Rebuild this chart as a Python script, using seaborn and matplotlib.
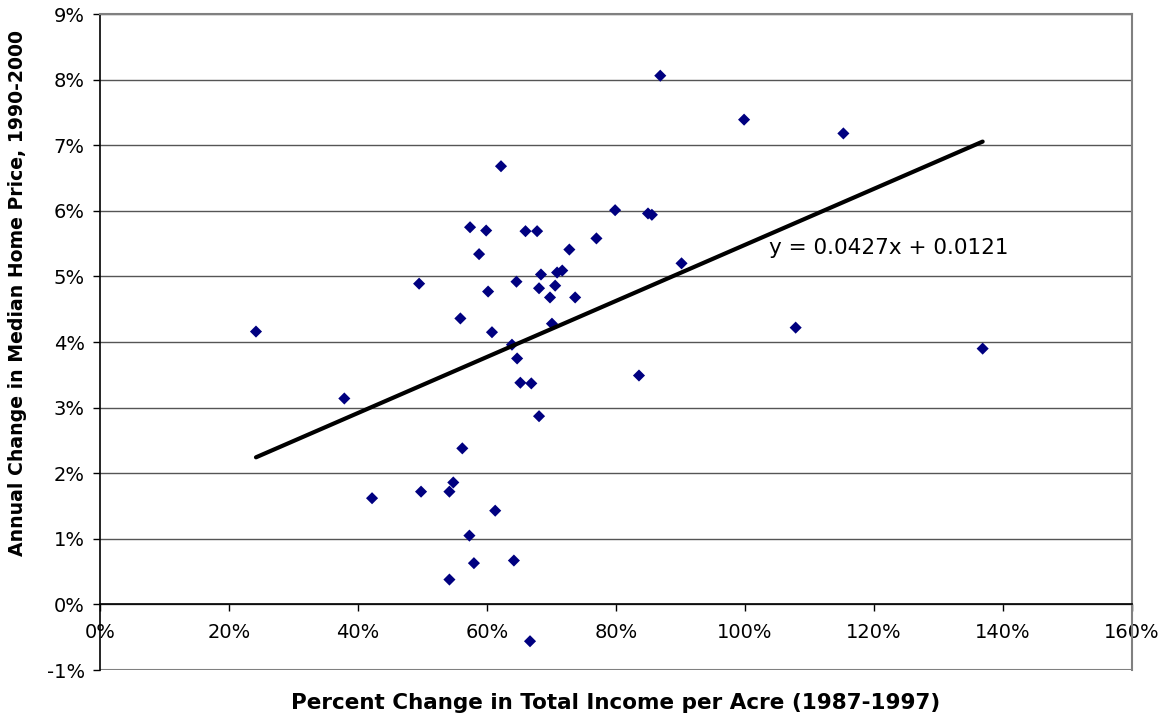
import matplotlib
matplotlib.use("Agg")
import matplotlib.pyplot as plt
import matplotlib.ticker as mticker
import numpy as np
import pandas as pd
import seaborn as sns

# Percent change in total income per acre (1987-1997), as fractions
income_change = [0.242, 0.379, 0.422, 0.495, 0.498, 0.542, 0.542, 0.548, 0.559, 0.562,
                 0.573, 0.574, 0.580, 0.588, 0.599, 0.602, 0.608, 0.613, 0.622, 0.639,
                 0.642, 0.646, 0.647, 0.652, 0.660, 0.667, 0.669, 0.678, 0.681, 0.681,
                 0.684, 0.698, 0.701, 0.706, 0.709, 0.717, 0.728, 0.737, 0.770, 0.799,
                 0.850, 0.856, 0.836, 0.869, 0.902, 0.999, 1.079, 1.153, 1.369]
# Annual change in median home price (1990-2000), as fractions
price_change = [0.0416, 0.0314, 0.0162, 0.0489, 0.0172, 0.0038, 0.0172, 0.0186, 0.0436, 0.0238,
                0.0105, 0.0575, 0.0063, 0.0534, 0.0570, 0.0477, 0.0415, 0.0143, 0.0668, 0.0396,
                0.0067, 0.0492, 0.0375, 0.0338, 0.0569, -0.0056, 0.0337, 0.0569, 0.0482, 0.0287,
                0.0503, 0.0468, 0.0428, 0.0486, 0.0506, 0.0509, 0.0541, 0.0468, 0.0558, 0.0601,
                0.0596, 0.0594, 0.0349, 0.0806, 0.0520, 0.0739, 0.0422, 0.0718, 0.0390]

slope, intercept = 0.0427, 0.0121
eq_label = "y = 0.0427x + 0.0121"

df = pd.DataFrame({"income": income_change, "price": price_change})

sns.set_theme(style="white", rc={"text.color": "black", "axes.labelcolor": "black",
                                 "xtick.color": "black", "ytick.color": "black"})
plt.rcParams["font.family"] = ["DejaVu Sans"]
plt.rcParams["axes.unicode_minus"] = False

fig = plt.figure(figsize=(11.69, 7.19), dpi=100)
ax = fig.add_axes([0.0855, 0.068, 0.8825, 0.9125])

# grid lines
for yv in np.arange(0.0, 0.091, 0.01):
    ax.axhline(yv, color="#555555", lw=1.0, zorder=1)
ax.axhline(-0.01, color="#808080", lw=1.5, zorder=1)

sns.scatterplot(data=df, x="income", y="price", marker="D", s=38,
                color="#000080", edgecolor="none", ax=ax, zorder=3)

# linear trend line from the fitted equation
xs = np.array([df["income"].min(), df["income"].max()])
sns.lineplot(x=xs, y=slope * xs + intercept, color="black", lw=3, ax=ax, zorder=4)

ax.text(1.037, 0.0544, eq_label, fontsize=15.5, va="center", ha="left", zorder=5)

ax.set_xlim(0, 1.6)
ax.set_ylim(-0.01, 0.09)
ax.xaxis.set_major_locator(mticker.MultipleLocator(0.2))
ax.yaxis.set_major_locator(mticker.MultipleLocator(0.01))
ax.xaxis.set_major_formatter(mticker.PercentFormatter(1.0, decimals=0))
ax.yaxis.set_major_formatter(mticker.PercentFormatter(1.0, decimals=0))

ax.spines["bottom"].set_position(("data", 0))
ax.spines["bottom"].set_color("black")
ax.spines["bottom"].set_linewidth(1.2)
ax.spines["left"].set_color("black")
ax.spines["left"].set_linewidth(1.2)
for s in ["top", "right"]:
    ax.spines[s].set_color("#808080")
    ax.spines[s].set_linewidth(1.5)

ax.tick_params(axis="x", direction="out", length=5, width=1, color="black",
               labelsize=14, pad=8, bottom=True)
ax.tick_params(axis="y", direction="out", length=5, width=1, color="black",
               labelsize=14, pad=6, left=True)

ax.set_xlabel("Percent Change in Total Income per Acre (1987-1997)",
              fontsize=15.5, fontweight="bold", va="center")
ax.xaxis.set_label_coords(0.5, -0.05)
ax.set_ylabel("Annual Change in Median Home Price, 1990-2000",
              fontsize=13.6, fontweight="bold", va="center")
ax.yaxis.set_label_coords(-0.0795, 0.575)

fig.savefig("out.png", dpi=100)
